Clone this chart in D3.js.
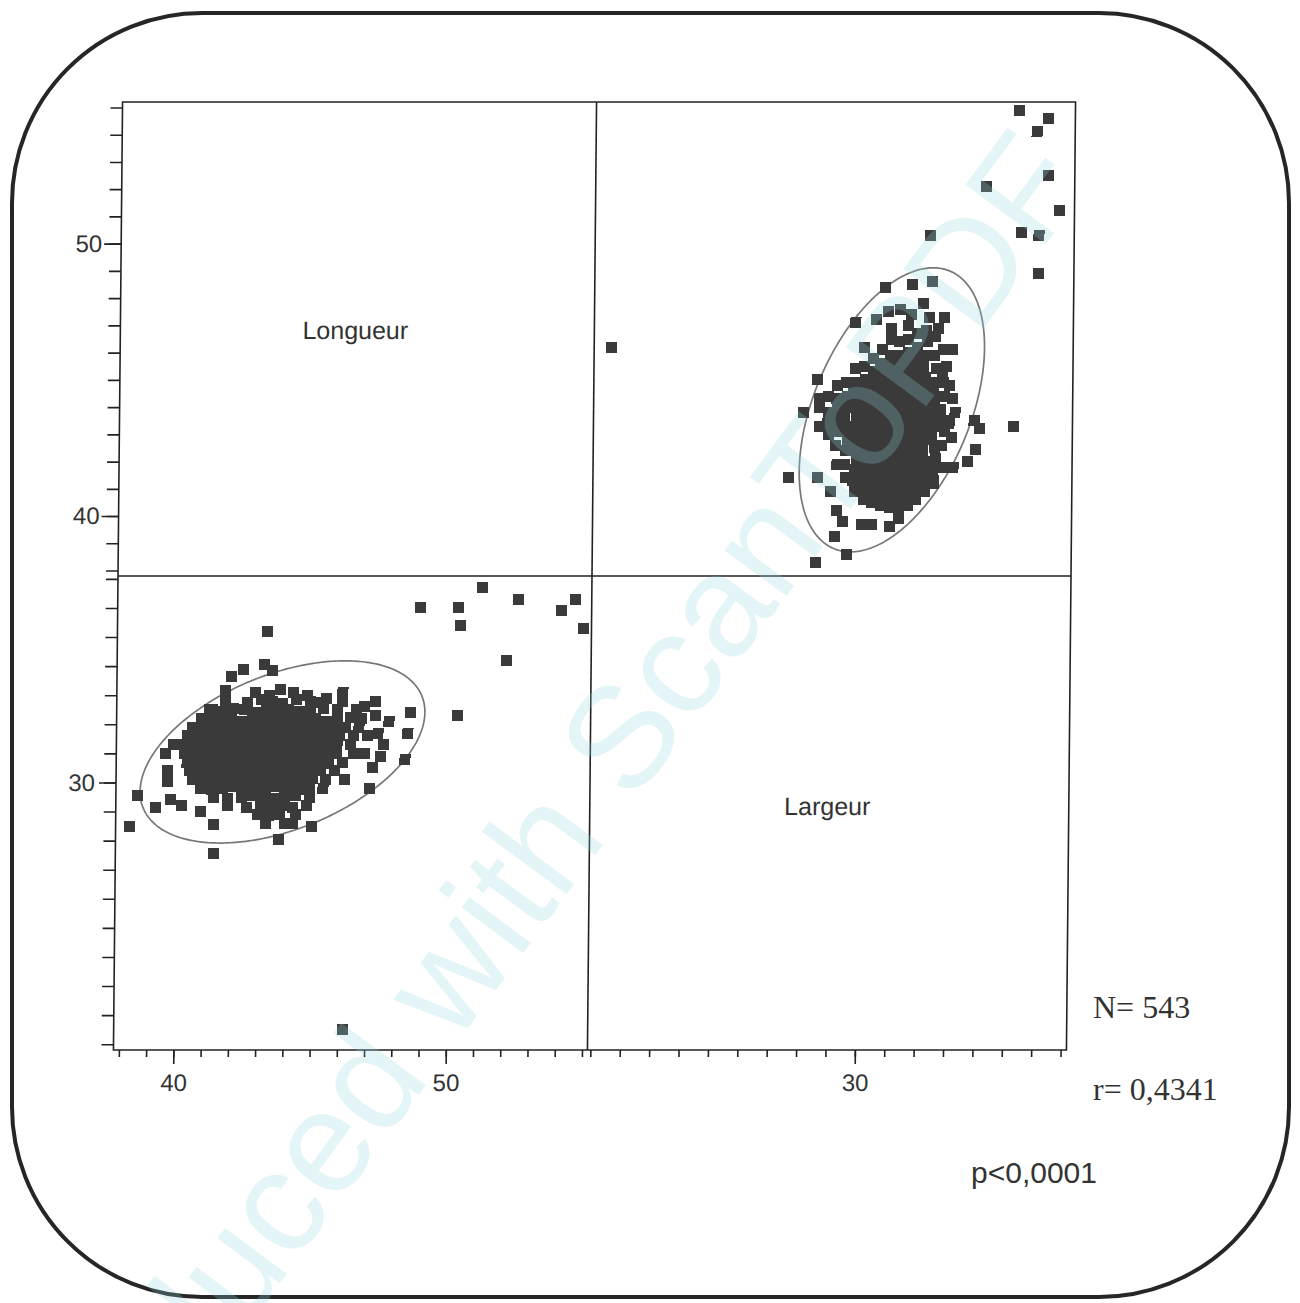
<!DOCTYPE html>
<meta charset="utf-8">
<style>
  body { margin: 0; background: #fff; }
  .tick text { font: 24px "Liberation Sans", Arial, sans-serif; fill: #333; }
  .tick line { stroke: #222; stroke-width: 1.6px; }
  .domain { display: none; }
  .label { font: 25px "Liberation Sans", Arial, sans-serif; fill: #333; }
  .stat { font: 32px "Liberation Serif", "Times New Roman", serif; fill: #333; }
  .stat-sans { font: 30px "Liberation Sans", Arial, sans-serif; fill: #333; }
  .point { fill: #3a3a3a; shape-rendering: crispEdges; }
  .ellipse { fill: none; stroke: #777; stroke-width: 1.7px; }
  .frame { fill: none; stroke: #222; stroke-width: 1.6px; }
  .card { fill: none; stroke: #262626; stroke-width: 4px; }
  .watermark { font: 145px "Liberation Sans", Arial, sans-serif; fill: #8fd6dc; fill-opacity: 0.25; }
</style>
<svg width="1300" height="1303"></svg>
<script src="https://d3js.org/d3.v7.min.js"></script>
<script>

    // [longueur, largeur] pairs
    var outliers = [
        [46.2, 21.5], [54.9, 35.3], [54.6, 36.3], [54.1, 35.9], [52.5, 36.3],
        [51.2, 36.7], [52.1, 34.2], [50.4, 35.4], [50.3, 36.0], [48.9, 36.0],
        [50.3, 32.3], [43.3, 35.2], [38.3, 28.5]
    ];

    var edgePoints = [
        [48.6, 32.4], [48.5, 31.7], [48.4, 30.8], [47.3, 32.8], [47.4, 31.7],
        [47.5, 30.9], [47.2, 30.5], [47.1, 29.8], [46.1, 33.1], [45.5, 32.9],
        [43.5, 33.85], [43.2, 34.05], [42.45, 33.9], [42.0, 33.65], [41.8, 33.15],
        [41.2, 32.5], [40.85, 31.85], [39.9, 31.3], [39.6, 31.0], [39.7, 30.4],
        [39.7, 30.05], [38.6, 29.55], [39.25, 29.15], [39.8, 29.4], [40.2, 29.2],
        [40.9, 29.0], [41.4, 28.55], [41.4, 27.55], [43.8, 28.05], [45.0, 28.5],
        [44.3, 28.6], [47.6, 31.3], [47.8, 32.1], [46.9, 31.0], [47.0, 31.6],
        [46.9, 32.6], [47.3, 32.3]
    ];

    var corePoints = [
        [42.9, 33.1], [43.4, 33.0], [43.8, 33.2], [44.3, 33.1], [44.8, 33.0],
        [41.8, 32.8], [42.6, 32.75], [43.1, 32.85], [43.5, 32.8], [43.9, 32.7], [44.4, 32.85],
        [44.9, 32.8], [45.3, 32.75], [46.1, 32.8],
        [41.3, 32.5], [41.7, 32.45], [42.1, 32.55], [42.5, 32.5], [42.9, 32.4], [43.3, 32.5],
        [43.7, 32.55], [44.1, 32.5], [44.5, 32.45], [44.9, 32.5], [45.4, 32.55], [45.9, 32.5], [46.6, 32.5],
        [40.9, 32.2], [41.3, 32.15], [41.6, 32.25], [42.0, 32.2], [42.4, 32.1], [42.8, 32.2],
        [43.1, 32.25], [43.5, 32.2], [43.9, 32.15], [44.3, 32.2], [44.7, 32.25], [45.1, 32.2],
        [45.5, 32.1], [45.9, 32.2], [46.4, 32.25], [46.8, 32.2],
        [40.6, 31.9], [41.0, 31.85], [41.4, 31.9], [41.8, 31.95], [42.2, 31.9], [42.6, 31.85],
        [43.0, 31.9], [43.4, 31.95], [43.8, 31.9], [44.2, 31.85], [44.6, 31.9], [45.0, 31.95],
        [45.4, 31.9], [45.8, 31.85], [46.2, 31.9], [46.7, 31.9],
        [40.4, 31.6], [40.8, 31.55], [41.2, 31.6], [41.6, 31.65], [42.0, 31.6], [42.4, 31.55],
        [42.8, 31.6], [43.2, 31.65], [43.6, 31.6], [44.0, 31.55], [44.4, 31.6], [44.8, 31.65],
        [45.2, 31.6], [45.6, 31.55], [46.0, 31.6], [46.5, 31.6],
        [40.3, 31.3], [40.7, 31.25], [41.1, 31.3], [41.5, 31.35], [41.9, 31.3], [42.3, 31.25],
        [42.7, 31.3], [43.1, 31.35], [43.5, 31.3], [43.9, 31.25], [44.3, 31.3], [44.7, 31.35],
        [45.1, 31.3], [45.5, 31.25], [45.9, 31.3], [46.4, 31.3],
        [40.3, 31.0], [40.7, 30.95], [41.1, 31.0], [41.5, 31.05], [41.9, 31.0], [42.3, 30.95],
        [42.7, 31.0], [43.1, 31.05], [43.5, 31.0], [43.9, 30.95], [44.3, 31.0], [44.7, 31.05],
        [45.1, 31.0], [45.5, 30.95], [45.9, 31.0], [46.5, 31.0],
        [40.4, 30.7], [40.8, 30.65], [41.2, 30.7], [41.6, 30.75], [42.0, 30.7], [42.4, 30.65],
        [42.8, 30.7], [43.2, 30.75], [43.6, 30.7], [44.0, 30.65], [44.4, 30.7], [44.8, 30.75],
        [45.2, 30.7], [45.6, 30.65], [46.1, 30.7],
        [40.5, 30.4], [40.9, 30.35], [41.3, 30.4], [41.7, 30.45], [42.1, 30.4], [42.5, 30.35],
        [42.9, 30.4], [43.3, 30.45], [43.7, 30.4], [44.1, 30.35], [44.5, 30.4], [44.9, 30.45],
        [45.3, 30.4], [45.8, 30.4],
        [40.6, 30.1], [41.0, 30.05], [41.4, 30.1], [41.8, 30.15], [42.2, 30.1], [42.6, 30.05],
        [43.0, 30.1], [43.4, 30.15], [43.8, 30.1], [44.2, 30.05], [44.6, 30.1], [45.0, 30.15],
        [45.5, 30.1], [46.2, 30.1],
        [40.9, 29.8], [41.3, 29.75], [41.7, 29.8], [42.1, 29.85], [42.5, 29.8], [42.9, 29.75],
        [43.3, 29.8], [43.7, 29.85], [44.1, 29.8], [44.5, 29.75], [44.9, 29.8], [45.4, 29.8],
        [41.4, 29.5], [41.9, 29.45], [42.4, 29.5], [42.8, 29.55], [43.2, 29.5], [43.6, 29.45],
        [44.0, 29.5], [44.4, 29.55], [44.9, 29.5],
        [41.9, 29.2], [42.6, 29.15], [43.1, 29.2], [43.5, 29.25], [43.9, 29.2], [44.3, 29.15], [44.8, 29.2],
        [43.0, 28.9], [43.4, 28.85], [43.8, 28.9], [44.4, 28.9],
        [43.3, 28.6], [44.0, 28.6]
    ];

    // bivariate summary used for the 95 % ellipse
    var moyenne = [43.9, 31.05];     // longueur, largeur
    var ecartType = [2.13, 1.28];
    var correlation = 0.4341;

    var axisLongTicks = d3.range(38, 56), axisLongMajor = [40, 50];
    var axisLargTicks = d3.range(21, 38), axisLargMajor = [30];

    var svg = d3.select("svg");

    var L = 118, M = 592, R = 1071, T = 102, MY = 576, B = 1050;

    var xLong = d3.scaleLinear().domain([37.8, 55.2]).range([L, M]);
    var xLarg = d3.scaleLinear().domain([20.9, 37.2]).range([M, R]);
    var yLong = d3.scaleLinear().domain([37.8, 55.2]).range([MY, T]);
    var yLarg = d3.scaleLinear().domain([20.8, 37.1]).range([B, MY]);

    // card outline
    svg.append("rect").attr("class", "card")
        .attr("x", 12).attr("y", 13).attr("width", 1277).attr("height", 1284)
        .attr("rx", 190).attr("ry", 190);

    // the scanned matrix leans a little
    var g = svg.append("g")
        .attr("transform", "translate(0," + MY + ") skewX(-0.55) translate(0," + (-MY) + ")");

    g.append("rect").attr("class", "frame")
        .attr("x", L).attr("y", T).attr("width", R - L).attr("height", B - T);
    g.append("line").attr("class", "frame").attr("x1", M).attr("x2", M).attr("y1", T).attr("y2", B);
    g.append("line").attr("class", "frame").attr("x1", L).attr("x2", R).attr("y1", MY).attr("y2", MY);

    // axes: minor ticks then labelled ticks
    function axes(sel, axis, minor, major, small, big, pad) {
        sel.append("g").call(axis.tickValues(minor).tickSize(small).tickFormat(""));
        sel.append("g").call(axis.tickValues(major).tickSize(big).tickPadding(pad).tickFormat(d3.format("d")));
    }
    axes(g.append("g").attr("transform", "translate(" + L + ",0)"), d3.axisLeft(yLong), axisLongTicks, axisLongMajor, 12, 17, 2);
    axes(g.append("g").attr("transform", "translate(" + L + ",0)"), d3.axisLeft(yLarg), axisLargTicks, axisLargMajor, 12, 17, 4);
    axes(g.append("g").attr("transform", "translate(0," + B + ")"), d3.axisBottom(xLong), axisLongTicks, axisLongMajor, 7, 14, 10);
    axes(g.append("g").attr("transform", "translate(0," + B + ")"), d3.axisBottom(xLarg), axisLargTicks, axisLargMajor, 7, 14, 10);

    // diagonal labels
    g.append("text").attr("class", "label").attr("text-anchor", "middle")
        .attr("x", (L + M) / 2 - 2).attr("y", 339).text("Longueur");
    g.append("text").attr("class", "label").attr("text-anchor", "middle")
        .attr("x", (M + R) / 2 - 2).attr("y", 815).text("Largeur");

    // ellipses
    var k = Math.sqrt(5.991);
    var angles = d3.range(0, 2 * Math.PI + 0.02, 0.02);
    function ellPoint(t) {
        var a = Math.cos(t), b = Math.sin(t);
        return [moyenne[0] + k * ecartType[0] * a,
                moyenne[1] + k * ecartType[1] * (correlation * a + Math.sqrt(1 - correlation * correlation) * b)];
    }
    var ell = angles.map(ellPoint);

    g.append("path").attr("class", "ellipse")
        .attr("d", d3.line().x(function(d) { return xLarg(d[1]); }).y(function(d) { return yLong(d[0]); })(ell));
    g.append("path").attr("class", "ellipse")
        .attr("d", d3.line().x(function(d) { return xLong(d[0]); }).y(function(d) { return yLarg(d[1]); })(ell));

    var all = outliers.concat(edgePoints, corePoints);
    var s = 11;

    // top right: largeur across, longueur up
    g.append("g").selectAll("rect").data(all).join("rect")
        .attr("class", "point")
        .attr("x", function(d) { return xLarg(d[1]) - s / 2; })
        .attr("y", function(d) { return yLong(d[0]) - s / 2; })
        .attr("width", s).attr("height", s);

    // bottom left: longueur across, largeur up
    g.append("g").selectAll("rect").data(all).join("rect")
        .attr("class", "point")
        .attr("x", function(d) { return xLong(d[0]) - s / 2; })
        .attr("y", function(d) { return yLarg(d[1]) - s / 2; })
        .attr("width", s).attr("height", s);

    // statistics
    svg.append("text").attr("class", "stat").attr("x", 1093).attr("y", 1018).text("N= 543");
    svg.append("text").attr("class", "stat").attr("x", 1093).attr("y", 1100).text("r= 0,4341");
    svg.append("text").attr("class", "stat-sans").attr("x", 971).attr("y", 1183).text("p<0,0001");

    // scanner watermark
    svg.append("text").attr("class", "watermark")
        .attr("transform", "translate(63,1577) rotate(-53.6)")
        .text("Produced with ScanToPDF");

</script>
